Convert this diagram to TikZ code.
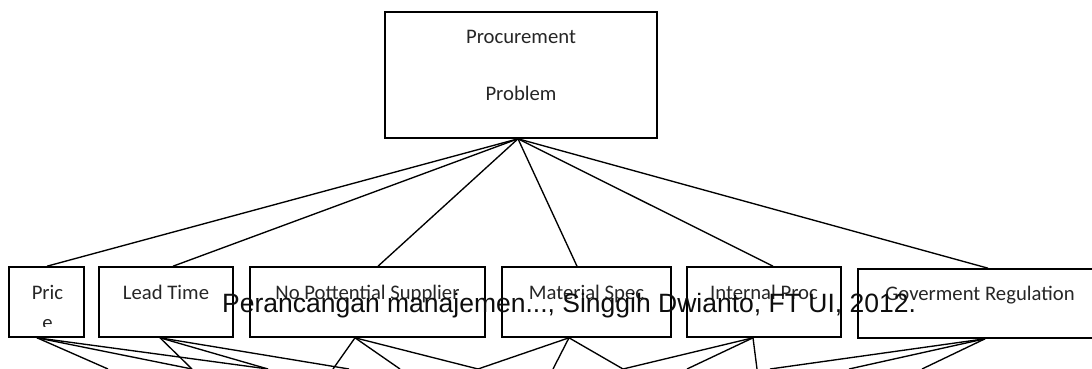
\documentclass[tikz,border=0pt]{standalone}
\usepackage{fontspec}
\setmainfont{Carlito}
\newfontfamily\markfont{Liberation Sans}
\begin{document}
\begin{tikzpicture}[x=1pt,y=-1pt,
  box/.style={draw=black, line width=1.6pt, rectangle, inner sep=0pt},
  lbl/.style={anchor=base, inner sep=0pt, text=black!85, font=\fontsize{20.7}{24}\selectfont},
  link/.style={draw=black, line width=1.35pt},
  footnote/.style={anchor=base west, inner sep=0pt, text=black!95, font=\markfont\fontsize{26.5}{30}\selectfont}]
\useasboundingbox (0,0) rectangle (1092,369);
\clip (0,0) rectangle (1092,369);

% root box
\node[box, minimum width=272pt, minimum height=126pt] (root) at (521,75) {};
\node[lbl] (rootA) at (521,44) {Procurement};
\node[lbl] (rootB) at (521,100) {Problem};

% second level boxes
\node[box, minimum width=75pt,  minimum height=70pt] (price) at (46.5,302) {};
\node[box, minimum width=134pt, minimum height=70pt] (lead)  at (166,302) {};
\node[box, minimum width=235pt, minimum height=70pt] (supp)  at (367.5,302) {};
\node[box, minimum width=169pt, minimum height=70pt] (spec)  at (586.5,302) {};
\node[box, minimum width=154pt, minimum height=70pt] (proc)  at (764,302) {};
\node[box, minimum width=244pt, minimum height=69pt] (gov)   at (980,303.5) {};

\node[lbl] (priceA) at (47.5,299) {Pric};
% the wrapped last letter is cut off by the line height
\begin{scope}
  \clip (10,310) rectangle (83,326.5);
  \node[lbl] (priceB) at (47.5,329) {e};
\end{scope}
\node[lbl] (leadT)  at (166,299) {Lead Time};
\node[lbl] (suppT)  at (367.5,299) {No Pottential Supplier};
\node[lbl] (specT)  at (586.5,299) {Material Spec};
\node[lbl] (procT)  at (764,299) {Internal Proc};
\node[lbl] (govT)   at (980,300) {Goverment Regulation};

% fan from the root
\coordinate (hub) at ([xshift=-3pt]root.south);
\draw[link] (hub) -- ([xshift=0.5pt]price.north);
\draw[link] (hub) -- ([xshift=7pt]lead.north);
\draw[link] (hub) -- ([xshift=10.5pt]supp.north);
\draw[link] (hub) -- ([xshift=-9.5pt]spec.north);
\draw[link] (hub) -- ([xshift=9pt]proc.north);
\draw[link] (hub) -- ([xshift=8pt]gov.north);

% connectors running on to the next level
\foreach \n/\x in {t1/108,t2/192,t3/268,t4/333,t5/349,t6/400,t7/478,t8/553,t9/623,t10/687,t11/757,t12/770,t13/849,t14/922}
  \coordinate (\n) at (\x,369);

\coordinate (priceS) at ([xshift=-9.5pt]price.south);
\coordinate (leadS)  at ([xshift=-6pt]lead.south);
\coordinate (suppS)  at ([xshift=-12.5pt]supp.south);
\coordinate (specS)  at ([xshift=-17.5pt]spec.south);
\coordinate (procS)  at ([xshift=-11pt]proc.south);
\coordinate (govS)   at ([xshift=5pt]gov.south);

\draw[link] (priceS) -- (t1);
\draw[link] (priceS) -- (t2);
\draw[link] (priceS) -- (t3);
\draw[link] (leadS) -- (t2);
\draw[link] (leadS) -- (t3);
\draw[link] (leadS) -- (t5);
\draw[link] (suppS) -- (t4);
\draw[link] (suppS) -- (t6);
\draw[link] (suppS) -- (t7);
\draw[link] (specS) -- (t7);
\draw[link] (specS) -- (t8);
\draw[link] (specS) -- (t9);
\draw[link] (procS) -- (t9);
\draw[link] (procS) -- (t10);
\draw[link] (procS) -- (t11);
\draw[link] (govS) -- (t12);
\draw[link] (govS) -- (t13);
\draw[link] (govS) -- (t14);

% footer text running across the boxes
\node[footnote] (note) at (222,312) {Perancangan manajemen..., Singgih Dwianto, FT UI, 2012.};
\end{tikzpicture}
\end{document}
